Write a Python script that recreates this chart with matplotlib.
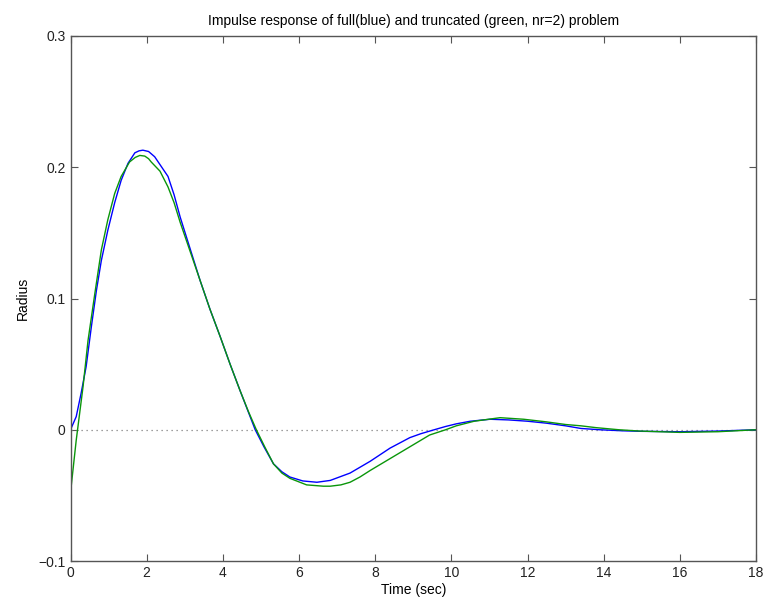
import numpy as np
import matplotlib.pyplot as plt

plt.rcParams['font.family'] = ['Liberation Sans', 'DejaVu Sans']

# --- values ---
t_full = [0.0, 0.15, 0.28, 0.41, 0.55, 0.68, 0.81, 0.98, 1.16, 1.33, 1.51, 1.69, 1.80, 1.90,
          2.05, 2.21, 2.35, 2.56, 2.72, 2.88, 3.14, 3.40, 3.66, 3.93, 4.19, 4.45, 4.65, 4.85,
          5.08, 5.33, 5.55, 5.76, 6.10, 6.47, 6.82, 7.34, 7.87, 8.39, 8.91, 9.20, 9.55, 9.85, 10.13,
          10.5, 11.02, 11.5, 12.0, 12.5, 13.0, 13.4, 13.9, 14.5, 15.0, 16.0, 17.0, 18.0]
y_full = [0.0, 0.010, 0.028, 0.048, 0.079, 0.106, 0.129, 0.152, 0.173, 0.190, 0.203, 0.211, 0.2125, 0.213,
          0.212, 0.208, 0.202, 0.193, 0.179, 0.162, 0.138, 0.114, 0.092, 0.071, 0.050, 0.030, 0.015, 0.0,
          -0.013, -0.026, -0.032, -0.036, -0.039, -0.040, -0.0386, -0.033, -0.024, -0.014, -0.006, -0.003, 0.0, 0.0025, 0.0045,
          0.0065, 0.008, 0.0075, 0.0065, 0.005, 0.003, 0.001, 0.0, -0.0008, -0.0012, -0.0015, -0.001, 0.0]

t_trunc = [0.0, 0.15, 0.33, 0.46, 0.64, 0.81, 0.98, 1.16, 1.33, 1.55, 1.70, 1.82, 1.95, 2.05,
           2.12, 2.35, 2.56, 2.72, 2.88, 3.14, 3.40, 3.66, 3.93, 4.19, 4.45, 4.67, 4.88,
           5.10, 5.33, 5.55, 5.76, 6.20, 6.64, 6.82, 7.10, 7.34, 7.60, 7.87, 8.39, 8.91, 9.43, 9.85,
           10.13, 10.6, 11.28, 11.9, 12.5, 13.0, 13.4, 13.8, 14.4, 14.95, 16.0, 17.0, 18.0]
y_trunc = [-0.048, -0.008, 0.033, 0.068, 0.104, 0.137, 0.160, 0.180, 0.193, 0.204, 0.2075, 0.209, 0.2085, 0.2065,
           0.204, 0.197, 0.185, 0.173, 0.158, 0.136, 0.114, 0.092, 0.071, 0.050, 0.030, 0.014, 0.0,
           -0.013, -0.026, -0.033, -0.037, -0.042, -0.043, -0.043, -0.042, -0.040, -0.036, -0.031, -0.022, -0.013, -0.004, 0.0,
           0.003, 0.0065, 0.0092, 0.008, 0.006, 0.004, 0.003, 0.0016, 0.0, -0.001, -0.002, -0.0015, 0.0]

x_ticks = [0, 2, 4, 6, 8, 10, 12, 14, 16, 18]
y_ticks = [-0.1, 0, 0.1, 0.2, 0.3]
y_ticklabels = ['\u22120.1', '0', '0.1', '0.2', '0.3']

fig = plt.figure(figsize=(7.68, 6.09), dpi=100)
ax = fig.add_axes([0.0918, 0.0788, 0.8926, 0.8621])

ax.plot([0, 18], [0, 0], color='#808080', linestyle=(0, (1, 3)), linewidth=0.9)
ax.plot(t_full, y_full, color='#0000ff', linewidth=1.0)
ax.plot(t_trunc, y_trunc, color='#0a960a', linewidth=1.0)

ax.set_xlim(0, 18)
ax.set_ylim(-0.1, 0.3)
ax.set_xticks(x_ticks)
ax.set_yticks(y_ticks)
ax.set_yticklabels(y_ticklabels)
ax.tick_params(direction='in', top=True, right=True, length=5, width=0.8,
               colors='#555555', labelcolor='#222222', labelsize=10)
for s in ax.spines.values():
    s.set_color('#555555')
    s.set_linewidth(1.0)

ax.set_title('Impulse response of full(blue) and truncated (green, nr=2) problem', fontsize=10, pad=8)
ax.set_xlabel('Time (sec)', fontsize=10, labelpad=2)
ax.set_ylabel('Radius', fontsize=10, labelpad=6)

fig.savefig('out.png', dpi=100)
